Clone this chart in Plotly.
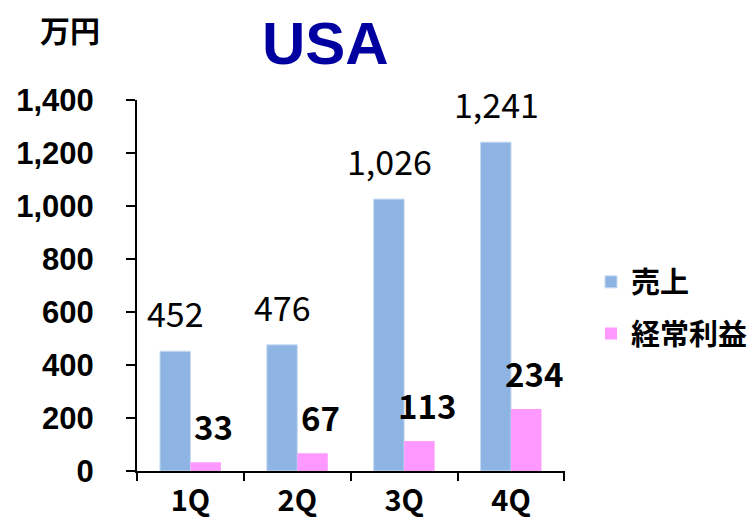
import plotly.graph_objects as go

categories = ["1Q", "2Q", "3Q", "4Q"]
sales = [452, 476, 1026, 1241]
profit = [33, 67, 113, 234]
series_names = ["売上", "経常利益"]
y_ticks = [0, 200, 400, 600, 800, 1000, 1200, 1400]

BLUE = "#8EB4E3"
PINK = "#FF99FF"
OFF = 8  # page body margin offset
W, H = 756 - OFF, 520 - OFF
L, R, T, B = 137 - OFF, 191, 100 - OFF, 49
PW, PH = W - L - R, H - T - B


def px_x(px):
    return (px - OFF - L) / PW


def px_y(py):
    return (H - B - (py - OFF)) / PH


fig = go.Figure()
fig.add_trace(go.Bar(x=categories, y=sales, name=series_names[0], marker_color=BLUE,
                     marker_line=dict(color="#C6DAF1", width=1), legendgroup="a"))
fig.add_trace(go.Bar(x=categories, y=profit, name=series_names[1], marker_color=PINK,
                     marker_line=dict(width=0), legendgroup="b"))

label_font = "Noto Sans CJK JP"
for c, v in zip(categories, sales):
    fig.add_annotation(x=c, y=v, xref="x", yref="y", text=f"{v:,}", showarrow=False,
                       xanchor="center", yanchor="bottom", xshift=-15, yshift=12,
                       font=dict(family=label_font, size=34, color="black"))
for c, v in zip(categories, profit):
    fig.add_annotation(x=c, y=v, xref="x", yref="y", text=f"<b>{v:,}</b>", showarrow=False,
                       xanchor="center", yanchor="bottom", xshift=23, yshift=10,
                       font=dict(family=label_font, size=33, color="black"))

fig.add_annotation(x=px_x(325), y=1 + T / PH, xref="paper", yref="paper", text="<b>USA</b>",
                   showarrow=False, xanchor="center", yanchor="top", yshift=-1, borderpad=0,
                   font=dict(family="Liberation Sans Narrow, Arial Narrow, Liberation Sans, sans-serif",
                             size=60, color="#0000A0"))
fig.add_annotation(x=px_x(70), y=px_y(29), xref="paper", yref="paper", text="<b>万円</b>",
                   showarrow=False, xanchor="center", yanchor="middle",
                   font=dict(family="Noto Sans CJK JP", size=30, color="black"))

fig.update_layout(
    width=W, height=H,
    margin=dict(l=L, r=R, t=T, b=B, pad=0, autoexpand=False),
    paper_bgcolor="white", plot_bgcolor="white",
    barmode="group", bargap=0.43, bargroupgap=0,
    showlegend=True,
    legend=dict(x=px_x(591), y=px_y(308), xanchor="left", yanchor="middle",
                font=dict(family="Noto Sans CJK JP", size=29, color="black", weight="bold"),
                tracegroupgap=11, itemwidth=30, bgcolor="rgba(0,0,0,0)", borderwidth=0),
    xaxis=dict(type="category", showline=True, linecolor="black", linewidth=2,
               ticks="outside", ticklen=8, tickwidth=2, tickcolor="black", tickson="boundaries",
               tickfont=dict(family="Noto Sans CJK JP", size=29, color="black", weight="bold"),
               ticklabelstandoff=3, showgrid=False, zeroline=False, automargin=False),
    yaxis=dict(range=[0, 1400], tickvals=y_ticks, ticktext=[f"{v:,}" for v in y_ticks],
               showline=True, linecolor="black", linewidth=2,
               ticks="outside", ticklen=9, tickwidth=2, tickcolor="black",
               tickfont=dict(family="Liberation Sans, Arial, sans-serif", size=31, color="black", weight="bold"),
               ticklabelstandoff=26, showgrid=False, zeroline=False, automargin=False),
)

fig.write_html("out.html")
